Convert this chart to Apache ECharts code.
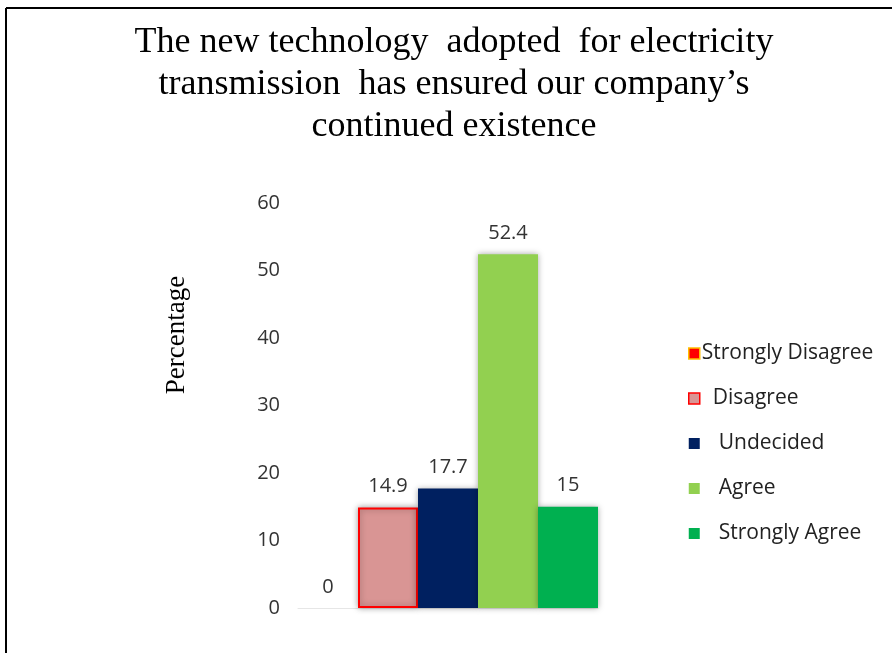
<!DOCTYPE html>
<html>
<head>
<meta charset="utf-8">
<script src="https://cdn.jsdelivr.net/npm/echarts@6/dist/echarts.min.js"></script>
<style>
  html, body { margin: 0; padding: 0; background: #fff; }
  #chart { width: 892px; height: 653px; }
</style>
</head>
<body>
<div id="chart"></div>
<script>
// Survey responses (percentage of respondents)
const responses = ['Strongly Disagree', 'Disagree', 'Undecided', 'Agree', 'Strongly Agree'];
const percentages = [0, 14.9, 17.7, 52.4, 15];
const fillColors = ['#ff0000', '#d99594', '#002060', '#92d050', '#00b050'];
const edgeColors = ['#ffc000', '#ff0000', '#002060', '#92d050', '#00b050'];
const yTicks = [0, 10, 20, 30, 40, 50, 60];

const labelFont = '"Open Sans", "Liberation Sans", sans-serif';
const serifFont = '"Liberation Serif", "Times New Roman", serif';
// indentation of each legend entry's text
const legendIndent = [-3, 8, 14, 14, 14];

const series = responses.map((name, i) => ({
  name: name,
  type: 'bar',
  barWidth: 60,
  barGap: '0%',
  data: [percentages[i]],
  itemStyle: {
    color: fillColors[i],
    borderColor: edgeColors[i],
    borderWidth: i === 1 ? 2 : 0,
    shadowColor: 'rgba(0,0,0,0.35)',
    shadowBlur: 6
  },
  label: {
    show: true,
    position: 'top',
    distance: 11,
    fontFamily: labelFont,
    fontSize: 20,
    color: '#333'
  }
}));

const chart = echarts.init(document.getElementById('chart'));
chart.setOption({
  animation: false,
  backgroundColor: '#fff',
  title: {
    text: 'The new technology  adopted  for electricity\ntransmission  has ensured our company\u2019s\ncontinued existence',
    left: 449,
    textAlign: 'center',
    top: 17,
    textStyle: {
      fontFamily: serifFont,
      fontWeight: 'normal',
      fontSize: 36,
      lineHeight: 42,
      color: '#000'
    }
  },
  legend: {
    orient: 'vertical',
    left: 683,
    top: 337,
    itemWidth: 11,
    itemHeight: 11,
    itemGap: 22,
    icon: 'rect',
    data: responses.map((name, i) => ({
      name: name,
      itemStyle: { color: fillColors[i], borderColor: edgeColors[i], borderWidth: i < 2 ? 1.5 : 0 },
      textStyle: { padding: [0, 0, 0, legendIndent[i]] }
    })),
    textStyle: {
      fontFamily: labelFont,
      fontSize: 21,
      lineHeight: 23,
      color: '#222'
    }
  },
  grid: { left: 298, right: 294, top: 203, bottom: 45, containLabel: false },
  xAxis: {
    type: 'category',
    data: [''],
    axisLine: { show: true, lineStyle: { color: '#e6e6e6', width: 1 } },
    axisTick: { show: false },
    axisLabel: { show: false }
  },
  yAxis: {
    type: 'value',
    min: yTicks[0],
    max: yTicks[yTicks.length - 1],
    interval: 10,
    axisLine: { show: false },
    axisTick: { show: false },
    splitLine: { show: false },
    axisLabel: {
      margin: 18,
      fontFamily: labelFont,
      fontSize: 20,
      color: '#333'
    }
  },
  graphic: [
    { type: 'line', shape: { x1: 6, y1: 8, x2: 892, y2: 8 }, style: { stroke: '#000', lineWidth: 2 } },
    { type: 'line', shape: { x1: 6, y1: 8, x2: 6, y2: 653 }, style: { stroke: '#000', lineWidth: 2 } },
    {
      type: 'text',
      x: 177,
      y: 335,
      rotation: Math.PI / 2,
      style: {
        text: 'Percentage',
        fontFamily: serifFont,
        fontSize: 27,
        fill: '#000',
        align: 'center',
        verticalAlign: 'middle'
      }
    }
  ],
  series: series
});
</script>
</body>
</html>
